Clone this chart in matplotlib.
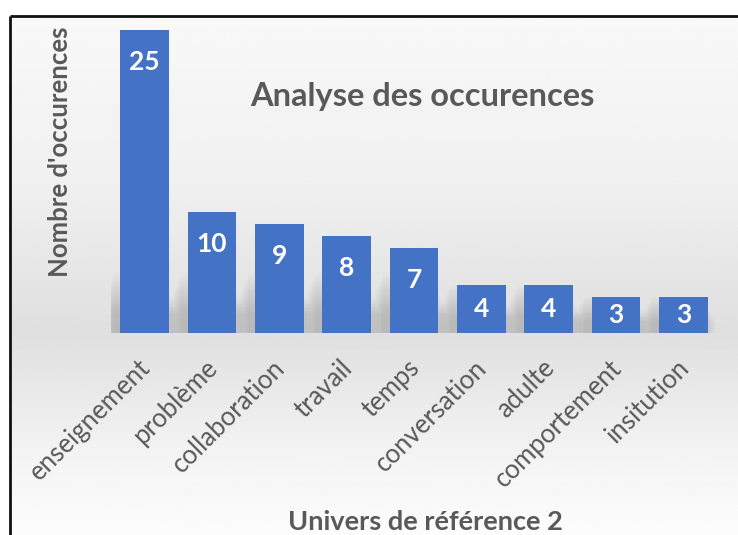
import numpy as np
import matplotlib.pyplot as plt
import matplotlib.transforms as mtransforms
from matplotlib.patches import Rectangle

plt.rcParams['font.family'] = ['Lato', 'DejaVu Sans']

categories = ['enseignement', 'problème', 'collaboration', 'travail', 'temps',
              'conversation', 'adulte', 'comportement', 'insitution']
occurrences = [25, 10, 9, 8, 7, 4, 4, 3, 3]

title = 'Analyse des occurences'
ylabel = "Nombre d'occurences"
xlabel = 'Univers de référence 2'

bar_color = '#4472c4'
text_grey = '#595959'

W, H = 738, 535
fig = plt.figure(figsize=(W / 100, H / 100), dpi=100)

# background gradient (light at top, grey around the bar base, white at bottom)
bg = fig.add_axes([0, 0, 1, 1], zorder=-10)
yy = np.linspace(0, 1, 400)
stops_y = [0.0, 0.03, 0.35, 0.62, 0.85, 1.0]
stops_v = [1.0, 0.975, 0.94, 0.875, 0.955, 0.99]
vals = np.interp(yy, stops_y, stops_v)
grad = np.repeat(vals[:, None], 2, axis=1)
bg.imshow(grad, aspect='auto', cmap='gray', vmin=0, vmax=1,
          extent=[0, 1, 0, 1], origin='upper')
# white margin above / left of the frame
bg.add_patch(Rectangle((0, 1 - 16 / H), 1, 16 / H, color='white', zorder=2))
bg.add_patch(Rectangle((0, 0), 10 / W, 1, color='white', zorder=2))
bg.plot([10 / W, 1], [1 - 16 / H, 1 - 16 / H], color='#111111', lw=2, zorder=3,
        solid_capstyle='butt')
bg.plot([10 / W, 10 / W], [0, 1 - 16 / H], color='#111111', lw=2, zorder=3,
        solid_capstyle='butt')
bg.set_xlim(0, 1)
bg.set_ylim(0, 1)
bg.axis('off')

ax = fig.add_axes([111 / W, 202 / H, 606 / W, 303 / H])
ax.patch.set_alpha(0)
x = np.arange(len(categories))

# soft shadow behind the bars
for xi, v in zip(x, occurrences):
    h = min(v, 5.0)
    for k in range(20):
        grow = 0.012 * k
        ax.add_patch(Rectangle((xi - 0.36 - 0.1 - grow, 0), 0.72 + 2 * grow,
                               h * (1 - 0.035 * k), color='#666666',
                               alpha=0.012, lw=0, zorder=1))

ax.bar(x, occurrences, width=0.72, color=bar_color, zorder=3)

for xi, v in zip(x, occurrences):
    ypos = v - min(2.65, v / 2)
    ax.text(xi, ypos, str(v), ha='center', va='center', color='white',
            fontsize=19, fontweight='bold', zorder=4)

ax.set_xlim(-0.5, len(categories) - 0.5)
ax.set_ylim(0, 25)
ax.set_yticks([])
ax.set_xticks(x)
ax.set_xticklabels(categories, rotation=45, ha='right', rotation_mode='anchor',
                   fontsize=18.5, color=text_grey)
ax.tick_params(axis='x', length=0, pad=16)
shift = mtransforms.ScaledTranslation(-7 / 100, 0, fig.dpi_scale_trans)
for lab in ax.get_xticklabels():
    lab.set_transform(lab.get_transform() + shift)
for s in ax.spines.values():
    s.set_visible(False)

ax.text(0.513, 0.78, title, transform=ax.transAxes, ha='center', va='center',
        fontsize=23.5, fontweight='bold', color=text_grey)

fig.text(60 / W, 1 - 152 / H, ylabel, rotation=90, ha='center', va='center',
         fontsize=18.5, fontweight='bold', color=text_grey)
fig.text(425 / W, 1 - 522 / H, xlabel, ha='center', va='center',
         fontsize=19.5, fontweight='bold', color=text_grey)

fig.savefig('out.png', dpi=100)
